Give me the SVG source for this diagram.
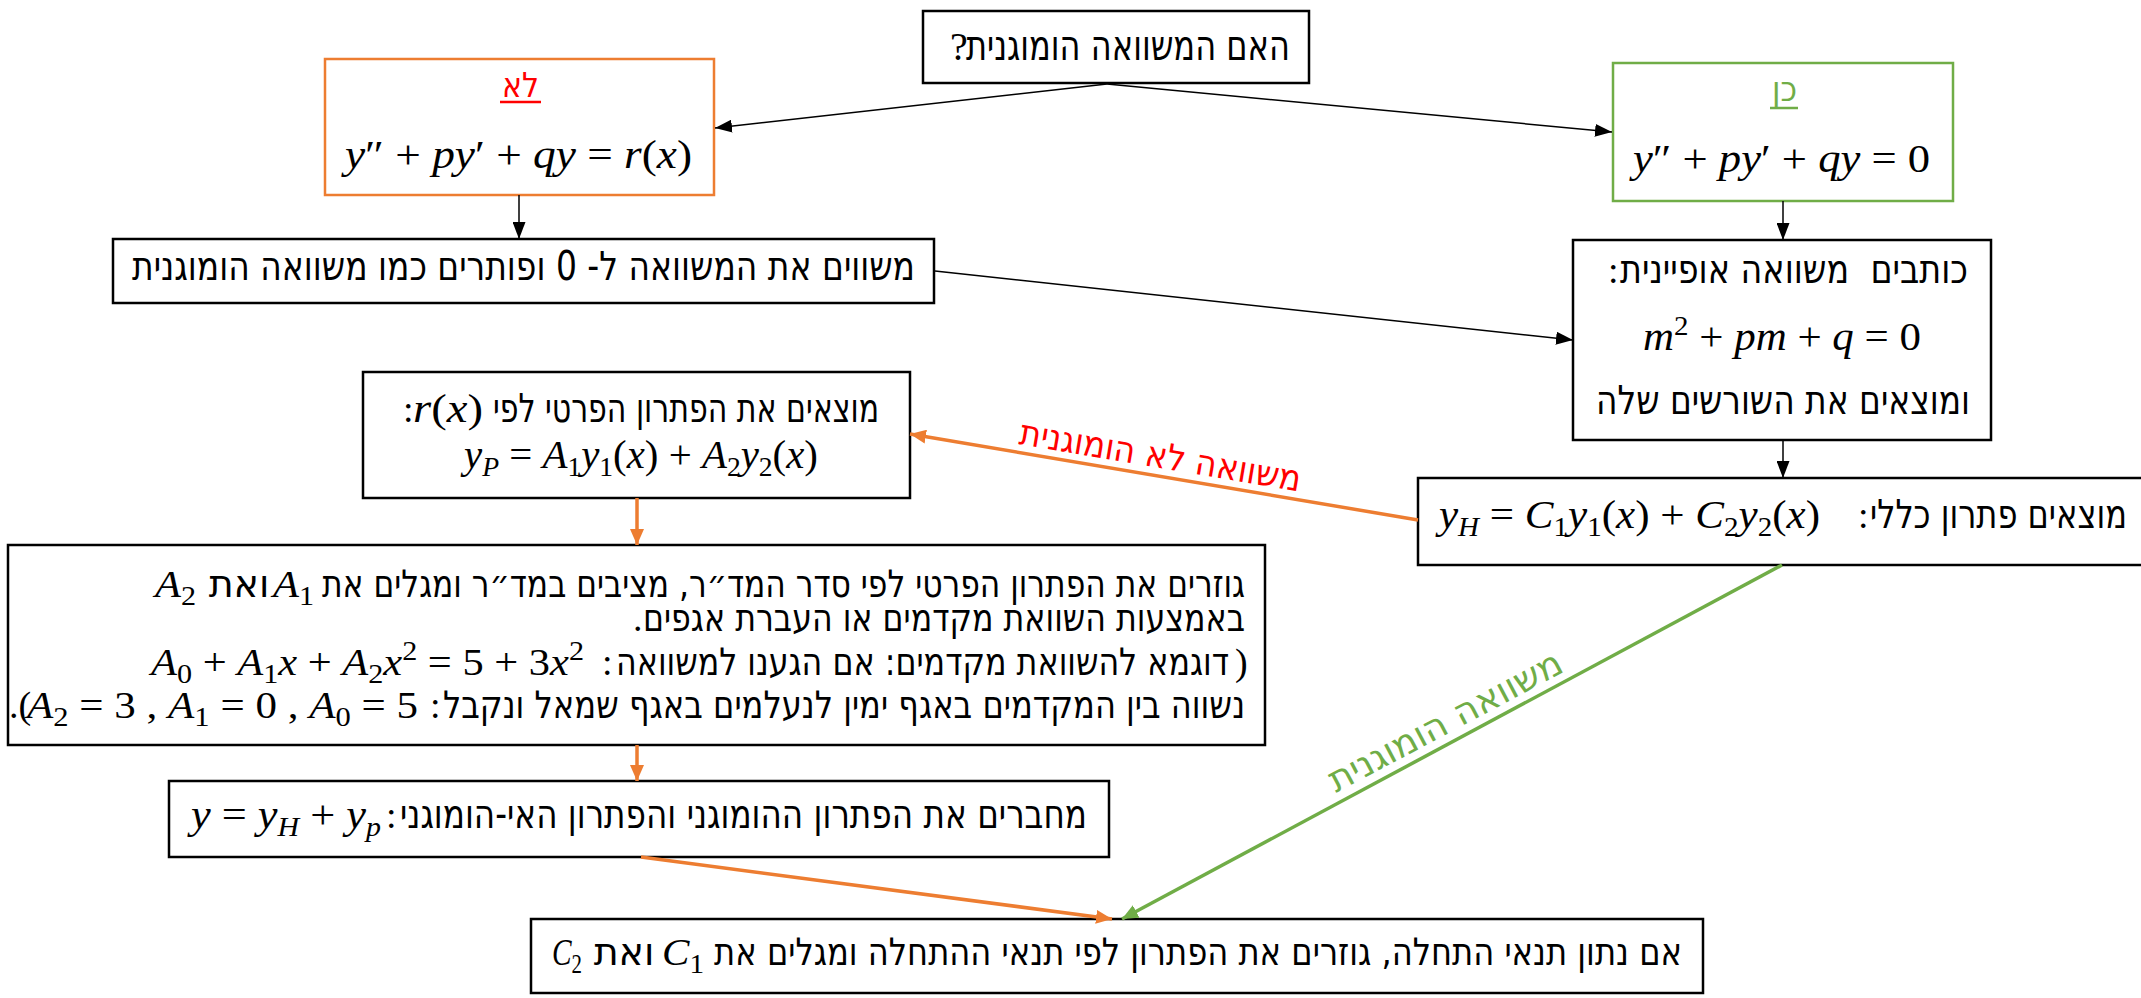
<svg xmlns="http://www.w3.org/2000/svg" width="2141" height="998" viewBox="0 0 2141 998">
<defs>
<style>
.box{fill:#fff;stroke:#000;stroke-width:2.5}
.ob{fill:#fff;stroke:#ED7D31;stroke-width:2.5}
.gb{fill:#fff;stroke:#70AD47;stroke-width:2.5}
.h{font-family:'DejaVu Sans','Liberation Sans',sans-serif;font-size:40px;fill:#000}
.hb{font-size:38px}
.p{font-family:'Liberation Serif',serif;font-size:38px;fill:#000}
.m{font-family:'Liberation Serif','DejaVu Serif',serif;font-size:40px;fill:#000}
.mb{font-size:38px}
.it{font-style:italic}
.s{font-size:27px}
.k{stroke:#000;stroke-width:1.5;fill:none}
.o{stroke:#ED7D31;stroke-width:3.5;fill:none}
.g{stroke:#70AD47;stroke-width:3.5;fill:none}
.red{fill:#FF0000}
.grn{fill:#70AD47}
</style>
<marker id="ak" markerUnits="userSpaceOnUse" markerWidth="17" markerHeight="13" refX="17" refY="6.5" orient="auto"><path d="M0,0 L17,6.5 L0,13 z" fill="#000"/></marker>
<marker id="ao" markerUnits="userSpaceOnUse" markerWidth="16" markerHeight="14" refX="16" refY="7" orient="auto"><path d="M0,0 L16,7 L0,14 z" fill="#ED7D31"/></marker>
<marker id="ag" markerUnits="userSpaceOnUse" markerWidth="16" markerHeight="14" refX="16" refY="7" orient="auto"><path d="M0,0 L16,7 L0,14 z" fill="#70AD47"/></marker>
</defs>
<rect width="2141" height="998" fill="#fff"/>

<g id="n-question">
<rect class="box" x="923" y="11" width="386" height="72"/>
<text class="p" x="950" y="60" style="font-size:40px">?</text>
<text class="h" x="966" y="60" style="font-size:42px" textLength="324" lengthAdjust="spacingAndGlyphs">האם המשוואה הומוגנית</text>
</g>

<g id="n-no">
<rect class="ob" x="325" y="59" width="389" height="136"/>
<text class="h red" x="502" y="97" style="font-size:34px" textLength="37" lengthAdjust="spacingAndGlyphs">לא</text>
<line x1="500" y1="102" x2="541" y2="102" stroke="#FF0000" stroke-width="2.5"/>
<text class="m" x="345" y="168" textLength="347" lengthAdjust="spacingAndGlyphs"><tspan class="it">y</tspan>″ + <tspan class="it">py</tspan>′ + <tspan class="it">qy</tspan> = <tspan class="it">r</tspan>(<tspan class="it">x</tspan>)</text>
</g>

<g id="n-yes">
<rect class="gb" x="1613" y="63" width="340" height="138"/>
<text class="h grn" x="1772" y="101" style="font-size:34px" textLength="25" lengthAdjust="spacingAndGlyphs">כן</text>
<line x1="1770" y1="108" x2="1798" y2="108" stroke="#70AD47" stroke-width="2.5"/>
<text class="m" x="1633" y="172" textLength="297" lengthAdjust="spacingAndGlyphs"><tspan class="it">y</tspan>″ + <tspan class="it">py</tspan>′ + <tspan class="it">qy</tspan> = 0</text>
</g>

<g id="n-equate">
<rect class="box" x="113" y="239" width="821" height="64"/>
<text class="h" x="132" y="280" textLength="783" lengthAdjust="spacingAndGlyphs">משווים את המשוואה ל- 0 ופותרים כמו משוואה הומוגנית</text>
</g>

<g id="n-char">
<rect class="box" x="1573" y="240" width="418" height="200"/>
<text class="p" x="1608" y="283">:</text>
<text class="h" x="1620" y="283" textLength="348" lengthAdjust="spacingAndGlyphs">כותבים&#160; משוואה אופיינית</text>
<text class="m" x="1643" y="350" textLength="278" lengthAdjust="spacingAndGlyphs"><tspan class="it">m</tspan><tspan class="s" dy="-15">2</tspan><tspan dy="15"> + </tspan><tspan class="it">pm</tspan> + <tspan class="it">q</tspan> = 0</text>
<text class="h" x="1596" y="414" textLength="374" lengthAdjust="spacingAndGlyphs">ומוצאים את השורשים שלה</text>
</g>

<g id="n-general">
<rect class="box" x="1418" y="478" width="740" height="87"/>
<text class="m" x="1439" y="528" textLength="381" lengthAdjust="spacingAndGlyphs"><tspan class="it">y</tspan><tspan class="s it" dy="8">H</tspan><tspan dy="-8"> = </tspan><tspan class="it">C</tspan><tspan class="s" dy="8">1</tspan><tspan class="it" dy="-8">y</tspan><tspan class="s" dy="8">1</tspan><tspan dy="-8">(</tspan><tspan class="it">x</tspan>) + <tspan class="it">C</tspan><tspan class="s" dy="8">2</tspan><tspan class="it" dy="-8">y</tspan><tspan class="s" dy="8">2</tspan><tspan dy="-8">(</tspan><tspan class="it">x</tspan>)</text>
<text class="p" x="1858" y="528">:</text>
<text class="h" x="1870" y="528" textLength="257" lengthAdjust="spacingAndGlyphs">מוצאים פתרון כללי</text>
</g>

<g id="n-particular">
<rect class="box" x="363" y="372" width="547" height="126"/>
<text class="p" x="403" y="422">:</text>
<text class="m" x="413" y="422" textLength="70" lengthAdjust="spacingAndGlyphs"><tspan class="it">r</tspan>(<tspan class="it">x</tspan>)</text>
<text class="h" x="493" y="422" textLength="386" lengthAdjust="spacingAndGlyphs">מוצאים את הפתרון הפרטי לפי</text>
<text class="m" x="464" y="468" textLength="354" lengthAdjust="spacingAndGlyphs"><tspan class="it">y</tspan><tspan class="s it" dy="8">P</tspan><tspan dy="-8"> = </tspan><tspan class="it">A</tspan><tspan class="s" dy="8">1</tspan><tspan class="it" dy="-8">y</tspan><tspan class="s" dy="8">1</tspan><tspan dy="-8">(</tspan><tspan class="it">x</tspan>) + <tspan class="it">A</tspan><tspan class="s" dy="8">2</tspan><tspan class="it" dy="-8">y</tspan><tspan class="s" dy="8">2</tspan><tspan dy="-8">(</tspan><tspan class="it">x</tspan>)</text>
</g>

<g id="n-derive">
<rect class="box" x="8" y="545" width="1257" height="200"/>
<text class="m mb" x="155" y="597" textLength="41" lengthAdjust="spacingAndGlyphs"><tspan class="it">A</tspan><tspan class="s" dy="8">2</tspan></text>
<text class="h hb" x="239" y="597" text-anchor="middle">ואת</text>
<text class="m mb" x="273" y="597" textLength="41" lengthAdjust="spacingAndGlyphs"><tspan class="it">A</tspan><tspan class="s" dy="8">1</tspan></text>
<text class="h hb" x="322" y="597" textLength="923" lengthAdjust="spacingAndGlyphs">גוזרים את הפתרון הפרטי לפי סדר המד״ר, מציבים במד״ר ומגלים את</text>
<text class="p" x="633" y="631">.</text>
<text class="h hb" x="643" y="631" textLength="602" lengthAdjust="spacingAndGlyphs">באמצעות השוואת מקדמים או העברת אגפים</text>
<text class="m mb" x="151" y="675" textLength="433" lengthAdjust="spacingAndGlyphs"><tspan class="it">A</tspan><tspan class="s" dy="8">0</tspan><tspan dy="-8"> + </tspan><tspan class="it">A</tspan><tspan class="s" dy="8">1</tspan><tspan class="it" dy="-8">x</tspan> + <tspan class="it">A</tspan><tspan class="s" dy="8">2</tspan><tspan class="it" dy="-8">x</tspan><tspan class="s" dy="-15">2</tspan><tspan dy="15"> = 5 + 3</tspan><tspan class="it">x</tspan><tspan class="s" dy="-15">2</tspan></text>
<text class="p" x="602" y="675">:</text>
<text class="h hb" x="616" y="675" textLength="613" lengthAdjust="spacingAndGlyphs">דוגמא להשוואת מקדמים: אם הגענו למשוואה</text>
<text class="p" x="1235" y="675">)</text>
<text class="p" x="9" y="718">.(</text>
<text class="m mb" x="27" y="718" textLength="391" lengthAdjust="spacingAndGlyphs"><tspan class="it">A</tspan><tspan class="s" dy="8">2</tspan><tspan dy="-8"> = 3 , </tspan><tspan class="it">A</tspan><tspan class="s" dy="8">1</tspan><tspan dy="-8"> = 0 , </tspan><tspan class="it">A</tspan><tspan class="s" dy="8">0</tspan><tspan dy="-8"> = 5</tspan></text>
<text class="p" x="430" y="718">:</text>
<text class="h hb" x="443" y="718" textLength="802" lengthAdjust="spacingAndGlyphs">נשווה בין המקדמים באגף ימין לנעלמים באגף שמאל ונקבל</text>
</g>

<g id="n-combine">
<rect class="box" x="169" y="781" width="940" height="76"/>
<text class="m" x="191" y="828" textLength="190" lengthAdjust="spacingAndGlyphs"><tspan class="it">y</tspan> = <tspan class="it">y</tspan><tspan class="s it" dy="8">H</tspan><tspan dy="-8"> + </tspan><tspan class="it">y</tspan><tspan class="s it" dy="8">p</tspan></text>
<text class="p" x="386" y="828">:</text>
<text class="h" x="400" y="828" textLength="687" lengthAdjust="spacingAndGlyphs">מחברים את הפתרון ההומוגני והפתרון האי-הומוגני</text>
</g>

<g id="n-initial">
<rect class="box" x="531" y="919" width="1172" height="74"/>
<text class="m mb" x="552" y="965" textLength="30" lengthAdjust="spacingAndGlyphs"><tspan class="it">C</tspan><tspan class="s" dy="8">2</tspan></text>
<text class="h hb" x="624" y="965" text-anchor="middle">ואת</text>
<text class="m mb" x="662" y="965" textLength="42" lengthAdjust="spacingAndGlyphs"><tspan class="it">C</tspan><tspan class="s" dy="8">1</tspan></text>
<text class="h hb" x="714" y="965" textLength="968" lengthAdjust="spacingAndGlyphs">אם נתון תנאי התחלה, גוזרים את הפתרון לפי תנאי ההתחלה ומגלים את</text>
</g>

<g id="connectors">
<line class="k" x1="1107" y1="84" x2="715" y2="128" marker-end="url(#ak)"/>
<line class="k" x1="1107" y1="84" x2="1612" y2="132" marker-end="url(#ak)"/>
<line class="k" x1="519" y1="195" x2="519" y2="239" marker-end="url(#ak)"/>
<line class="k" x1="1783" y1="201" x2="1783" y2="240" marker-end="url(#ak)"/>
<line class="k" x1="935" y1="271" x2="1573" y2="340" marker-end="url(#ak)"/>
<line class="k" x1="1783" y1="440" x2="1783" y2="478" marker-end="url(#ak)"/>
<line class="o" x1="1418" y1="520" x2="910" y2="434" marker-end="url(#ao)"/>
<line class="o" x1="637" y1="498" x2="637" y2="545" marker-end="url(#ao)"/>
<line class="o" x1="637" y1="745" x2="637" y2="781" marker-end="url(#ao)"/>
<line class="o" x1="641" y1="857" x2="1112" y2="919" marker-end="url(#ao)"/>
<line class="g" x1="1782" y1="565" x2="1122" y2="919" marker-end="url(#ag)"/>
<text class="h red" transform="translate(1018,444) rotate(9.6)" x="0" y="0" style="font-size:36px" textLength="285" lengthAdjust="spacingAndGlyphs">משוואה לא הומוגנית</text>
<text class="h grn" transform="translate(1336,793) rotate(-28)" x="0" y="0" style="font-size:36px" textLength="260" lengthAdjust="spacingAndGlyphs">משוואה הומוגנית</text>
</g>
</svg>
